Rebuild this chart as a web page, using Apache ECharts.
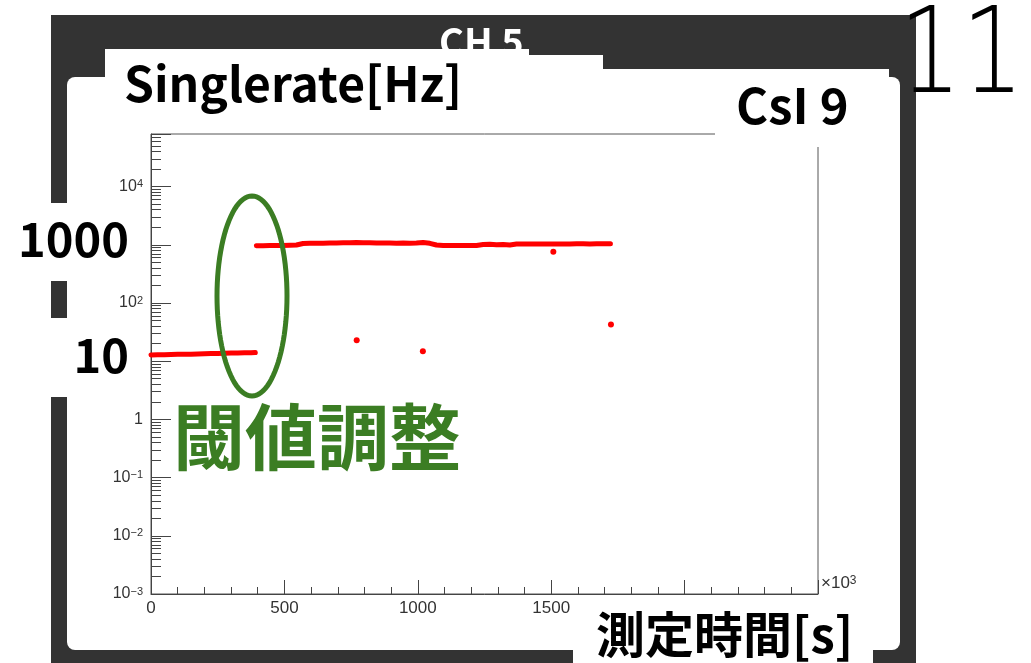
<!DOCTYPE html>
<html><head><meta charset="utf-8">
<script src="https://cdn.jsdelivr.net/npm/echarts@6/dist/echarts.min.js"></script>
<style>html,body{margin:0;padding:0;background:#fff;}#c{width:1031px;height:663px;}</style>
</head><body><div id="c"></div>
<script>
// ---- data ----
const lowTime = [0,25,50,75,100,125,150,175,200,225,250,275,300,325,350,375,391];
const lowRate = [12.8,12.9,12.9,13.0,13.1,13.2,13.1,13.3,13.4,13.5,13.6,13.7,13.8,13.8,13.9,14.0,14.1];
const highTime = [395,420,445,470,495,520,545,570,595,620,645,670,695,720,745,770,795,820,845,870,895,920,945,970,995,1020,1045,1070,1095,1120,1145,1170,1195,1220,1245,1270,1295,1320,1345,1370,1395,1420,1445,1470,1495,1520,1545,1570,1595,1620,1645,1670,1695,1722];
const highRate = [960,965,970,972,975,980,990,1050,1060,1065,1065,1070,1075,1080,1085,1090,1085,1080,1075,1070,1070,1065,1070,1065,1070,1095,1060,990,975,970,968,968,970,975,1010,1020,1000,1015,995,1030,1035,1035,1030,1035,1035,1030,1035,1035,1040,1040,1035,1040,1040,1040];
const outTime = [771,1019,1508,1724];
const outRate = [23,14.8,758,42.8];
const xTickLabels = ['0','500','1000','1500','2000','2500'];

const zip = (a,b) => a.map((v,i)=>[v,b[i]]);
const RED = '#ff0000', GREEN = '#3b7d23', AX = '#444';
const CJK = '"Noto Sans CJK JP", "Noto Sans", sans-serif';
const HELV = '"Liberation Sans", Arial, sans-serif';

// annotation ellipse outline (not data)
const ell = [];
for (let k = 0; k < 96; k++) { const a = k / 96 * 2 * Math.PI; ell.push([252 + 35 * Math.cos(a), 296 + 100 * Math.sin(a)]); }

const chart = echarts.init(document.getElementById('c'), null, {renderer:'canvas'});
chart.setOption({
  animation:false,
  backgroundColor:'#fff',
  grid:{left:151, top:134, right:213, bottom:69, show:true, borderColor:'#555', borderWidth:1, backgroundColor:'transparent', outerBoundsMode:'none'},
  xAxis:{
    type:'value', min:0, max:2500, interval:500,
    axisLine:{show:true, lineStyle:{color:AX, width:1}},
    axisTick:{show:true, inside:true, length:14, lineStyle:{color:AX}},
    minorTick:{show:true, splitNumber:5, length:7, lineStyle:{color:AX}},
    splitLine:{show:false},
    axisLabel:{margin:6, color:'#333', fontSize:17, fontFamily:HELV,
      formatter:(v)=>{ const i = Math.round(v/500); return xTickLabels[i] !== undefined ? xTickLabels[i] : ''; }}
  },
  yAxis:{
    type:'log', logBase:10, min:0.001, max:80000,
    axisLine:{show:true, lineStyle:{color:AX, width:1}},
    axisTick:{show:true, inside:true, length:20, lineStyle:{color:AX}},
    minorTick:{show:true, splitNumber:9, length:10, lineStyle:{color:AX}},
    splitLine:{show:false},
    axisLabel:{margin:8, color:'#333', fontFamily:HELV,
      formatter:(v)=>{
        const l = Math.log10(v), e = Math.round(l);
        if (Math.abs(l-e) > 1e-6) return '';
        if (e === 0) return '{b|1}';
        return '{b|10}{s|' + (e<0 ? '\u2212'+(-e) : e) + '}';
      },
      rich:{ b:{fontSize:16, color:'#333', fontFamily:HELV},
             s:{fontSize:11, color:'#333', verticalAlign:'top', fontFamily:HELV} }
    }
  },
  series:[
    {type:'line', data:zip(lowTime,lowRate), symbol:'none', lineStyle:{color:RED, width:5, cap:'round', join:'round'}, z:3},
    {type:'line', data:zip(highTime,highRate), symbol:'none', lineStyle:{color:RED, width:5, cap:'round', join:'round'}, z:3},
    {type:'scatter', data:zip(outTime,outRate), symbol:'circle', symbolSize:6, itemStyle:{color:RED, opacity:1}, z:3}
  ],
  graphic:{elements:[
    {type:'rect', z:-10, shape:{x:51,y:15,width:865,height:648}, style:{fill:'#333333'}},
    {type:'text', z:-9, x:439, y:42, style:{text:'CH 5', fill:'#ffffff', fontSize:38, fontWeight:'bold', fontFamily:CJK, verticalAlign:'middle'}},
    {type:'rect', z:-8, shape:{x:67,y:77,width:833,height:573,r:8}, style:{fill:'#fff'}},
    {type:'rect', z:-8, shape:{x:105,y:49,width:424,height:40}, style:{fill:'#fff'}},
    {type:'rect', z:-8, shape:{x:529,y:55,width:74,height:30}, style:{fill:'#fff'}},
    {type:'rect', z:-8, shape:{x:603,y:69,width:112,height:20}, style:{fill:'#fff'}},
    {type:'text', z:-7, x:124, y:84, style:{text:'Singlerate[Hz]', fill:'#000', fontSize:48, fontWeight:'bold', fontFamily:CJK, verticalAlign:'middle'}},
    {type:'rect', z:100, shape:{x:715,y:69,width:174,height:78}, style:{fill:'#fff'}},
    {type:'text', z:101, x:736, y:105, style:{text:'CsI 9', fill:'#000', fontSize:49, fontWeight:'bold', fontFamily:CJK, verticalAlign:'middle'}},
    {type:'rect', z:100, shape:{x:0,y:203,width:148,height:78}, style:{fill:'#fff'}},
    {type:'text', z:101, x:129, y:239, style:{text:'1000', fill:'#000', fontSize:47, fontWeight:'bold', fontFamily:CJK, align:'right', verticalAlign:'middle'}},
    {type:'rect', z:100, shape:{x:0,y:318,width:148,height:79}, style:{fill:'#fff'}},
    {type:'text', z:101, x:129, y:355, style:{text:'10', fill:'#000', fontSize:47, fontWeight:'bold', fontFamily:CJK, align:'right', verticalAlign:'middle'}},
    {type:'rect', z:100, shape:{x:573,y:598,width:300,height:65}, style:{fill:'#fff'}},
    {type:'text', z:101, x:596, y:634, style:{text:'測定時間[s]', fill:'#000', fontSize:49, fontWeight:'bold', fontFamily:CJK, verticalAlign:'middle'}},
    {type:'text', z:101, x:821, y:583, style:{text:'{a|×10}{s|3}', fill:'#333', verticalAlign:'middle',
      rich:{a:{fontSize:17, fill:'#333', fontFamily:HELV}, s:{fontSize:12, fill:'#333', verticalAlign:'top', fontFamily:HELV}}}},
    {type:'polygon', z:102, shape:{points:ell}, style:{fill:'none', stroke:GREEN, lineWidth:5}},
    {type:'text', z:102, x:173, y:437, style:{text:'閾値調整', fill:GREEN, fontSize:72, fontWeight:'bold', fontFamily:CJK, verticalAlign:'middle'}},
    {type:'text', z:102, x:899, y:61, scaleX:0.82, style:{text:'11', fill:'#000', fontSize:120, fontWeight:300, fontFamily:'"DejaVu Sans", sans-serif', verticalAlign:'middle'}}
  ]}
});
</script></body></html>
